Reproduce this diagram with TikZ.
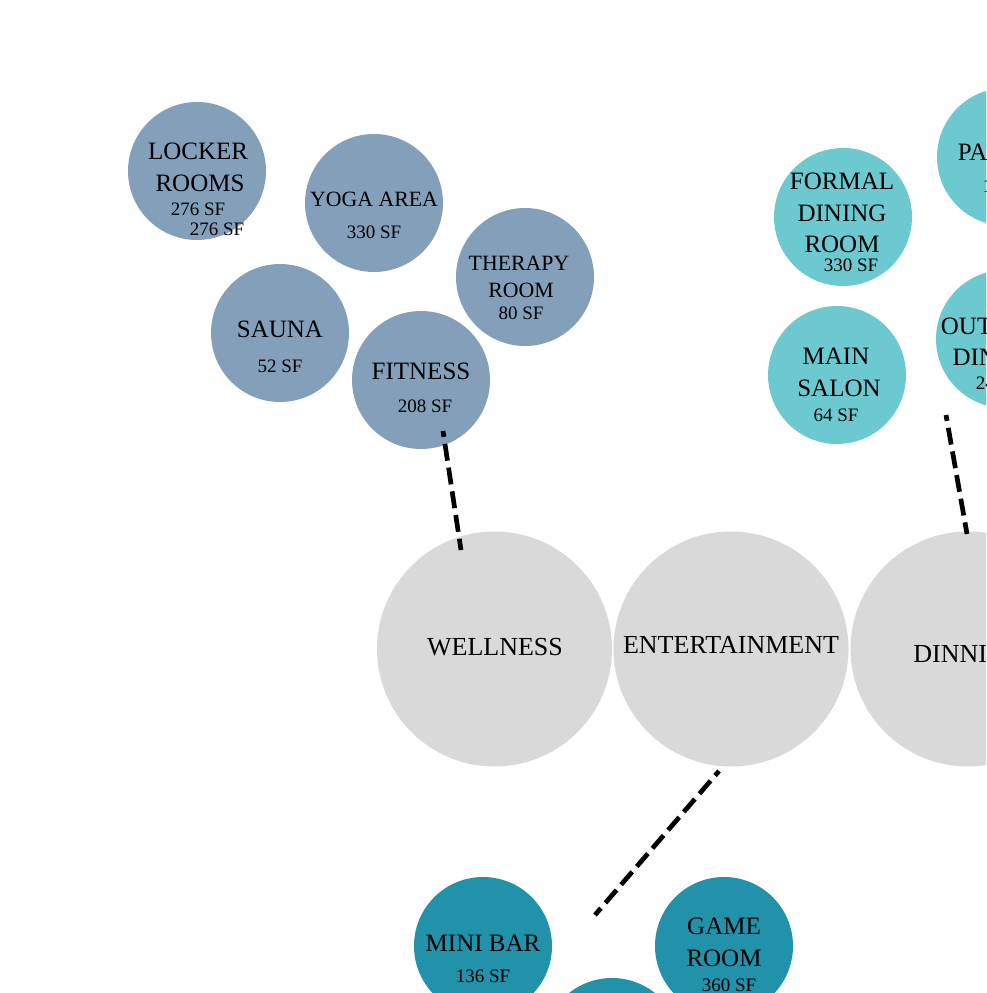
\documentclass[tikz,border=0pt]{standalone}
\usepackage{fontspec}
\setmainfont{Liberation Serif}
\definecolor{wellc}{HTML}{849FB9}
\definecolor{dinec}{HTML}{6CC9D0}
\definecolor{entc}{HTML}{2291AA}
\definecolor{hubc}{HTML}{D9D9D9}
\tikzset{
  room/.style={circle, minimum size=138pt, inner sep=0pt, draw=none},
  hub/.style={circle, minimum size=235pt, inner sep=0pt, fill=hubc, draw=none},
  big/.style={inner sep=0pt, font=\fontsize{25}{29}\selectfont},
  mid/.style={inner sep=0pt, font=\fontsize{21.8}{25}\selectfont},
  huge/.style={inner sep=0pt, font=\fontsize{26}{30}\selectfont},
  area/.style={inner sep=0pt, font=\fontsize{19}{22}\selectfont},
  link/.style={line width=4.7pt, dash pattern=on 17pt off 7pt, dash phase=11pt}
}
\begin{document}
\begin{tikzpicture}[x=1pt,y=-1pt]
\useasboundingbox (0,0) rectangle (986,993);
\clip (0,0) rectangle (986,993);
\fill[white] (0,0) rectangle (986,993);
% hubs
\node[hub] (wellness) at (494.5,649) {};
\node[hub] (entertainment) at (731,649) {};
\node[hub] (dining) at (968,649) {};
% wellness rooms
\node[room, fill=wellc] (locker) at (197,171) {};
\node[room, fill=wellc] (yoga) at (374,203) {};
\node[room, fill=wellc] (therapy) at (525,277) {};
\node[room, fill=wellc] (sauna) at (280,333) {};
\node[room, fill=wellc] (fitness) at (421,380) {};
% dining rooms
\node[room, fill=dinec] (pantry) at (1006,157) {};
\node[room, fill=dinec] (formal) at (843,217) {};
\node[room, fill=dinec] (outdoor) at (1005,339) {};
\node[room, fill=dinec] (salon) at (837,375) {};
% entertainment rooms
\node[room, fill=entc] (minibar) at (483,946) {};
\node[room, fill=entc] (game) at (724,946) {};
\node[room, fill=entc] (third) at (612,1047) {};
% labels
\node[big] (t1) at (198,151) {LOCKER};
\node[big] (t2) at (200,183) {ROOMS};
\node[area] (t3) at (198,209) {276 SF};
\node[area] (t4) at (217,229) {276 SF};
\node[mid] (t5) at (374,199) {YOGA AREA};
\node[area] (t6) at (374,232) {330 SF};
\node[mid] (t7) at (519,263) {THERAPY};
\node[mid] (t8) at (521,290) {ROOM};
\node[area] (t9) at (521,313) {80 SF};
\node[big] (t10) at (280,329) {SAUNA};
\node[area] (t11) at (280,366) {52 SF};
\node[big] (t12) at (421,371) {FITNESS};
\node[area] (t13) at (425,406) {208 SF};
\node[big] (t14) at (842,181) {FORMAL};
\node[big] (t15) at (842,213) {DINING};
\node[big] (t16) at (842,244) {ROOM};
\node[area] (t17) at (851,265) {330 SF};
\node[big] (t18) at (836,356) {MAIN};
\node[big] (t19) at (839,388) {SALON};
\node[area] (t20) at (836,415) {64 SF};
\node[big] (t21) at (1006,152) {PANTRY};
\node[area] (t22) at (1010,186) {120 SF};
\node[big] (t23) at (1002,326) {OUTDOOR};
\node[big] (t24) at (997,357) {DINING};
\node[area] (t25) at (1003,383) {240 SF};
\node[huge] (t26) at (495,647) {WELLNESS};
\node[huge] (t27) at (731,645) {ENTERTAINMENT};
\node[huge] (t28) at (969,654) {DINNING};
\node[big] (t29) at (483,943) {MINI BAR};
\node[area] (t30) at (483,976) {136 SF};
\node[big] (t31) at (724,926) {GAME};
\node[big] (t32) at (724,958) {ROOM};
\node[area] (t33) at (729,985) {360 SF};
% connectors
\coordinate (fa) at (443,431);
\coordinate (wa) at (461,550);
\coordinate (sa) at (946,415);
\coordinate (da) at (967,534);
\coordinate (ea) at (719,771);
\coordinate (ma) at (595,915);
\draw[link] (fa) -- (wa);
\draw[link] (sa) -- (da);
\draw[link] (ea) -- (ma);
\end{tikzpicture}
\end{document}
